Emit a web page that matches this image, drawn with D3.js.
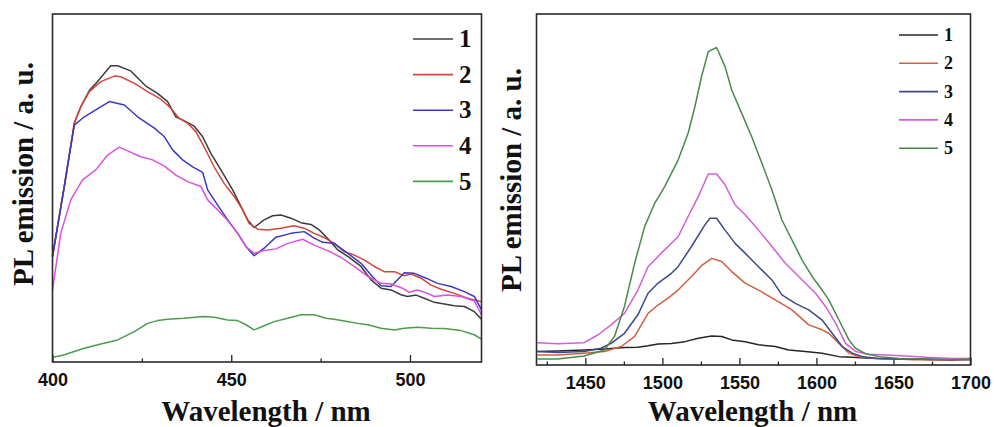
<!DOCTYPE html>
<html>
<head>
<meta charset="utf-8">
<script src="https://cdn.jsdelivr.net/npm/d3@7"></script>
<style>
  body { margin: 0; background: #fff; }
  svg { display: block; }
  .tick text { font-family: "Liberation Sans", Arial, sans-serif; font-weight: bold; font-size: 18px; fill: #111; }
  .title { font-family: "Liberation Serif", "Times New Roman", serif; font-weight: bold; font-size: 29px; fill: #111; }
  .leg { font-family: "Liberation Serif", "Times New Roman", serif; font-weight: bold; fill: #111; }
</style>
</head>
<body>
<svg id="chart" width="994" height="427"></svg>
<script>
// left panel: visible-range PL (wavelength nm, intensity a.u.)
var vis1 = [[400,29.7],[403.3,50.0],[406.1,68.3],[407.9,73.1],[410.3,77.8],[412.6,80.4],[416.3,85.0],[418.2,85.0],[421.9,83.5],[426.1,79.1],[429.4,77.0],[432.2,74.6],[434.5,70.2],[437.3,68.8],[439.6,67.5],[442.0,64.4],[444.3,59.6],[447.1,54.8],[450.4,49.0],[452.7,44.2],[454.6,40.3],[456.4,38.1],[459.2,40.3],[461.6,41.5],[463.9,41.7],[466.7,40.8],[469.5,39.5],[472.3,39.0],[474.6,37.4],[477.4,34.5],[479.8,31.6],[482.6,29.7],[486.3,26.8],[489.1,22.9],[491.9,20.5],[494.7,20.0],[497.5,18.6],[499.3,18.1],[501.7,18.5],[504.0,17.6],[506.8,16.4],[509.6,15.9],[512.4,15.4],[515.2,15.2],[518.0,13.7],[520,11.5]];
var vis2 = [[400,29.7],[403.3,50.0],[406.1,68.3],[407.9,73.1],[410.3,77.5],[413.5,80.4],[417.3,82.0],[419.1,81.8],[422.9,79.9],[426.6,77.5],[430.3,75.3],[433.1,72.7],[435.4,69.8],[437.8,68.3],[440.1,65.9],[442.4,61.5],[445.2,55.7],[448.0,50.9],[450.8,47.1],[453.2,43.2],[455.0,39.3],[457.4,37.6],[460.2,37.4],[463.9,37.9],[467.6,38.6],[470.4,37.9],[473.2,36.4],[476.0,35.2],[478.8,33.5],[481.6,31.1],[484.4,30.1],[487.2,28.7],[490.0,26.8],[492.8,25.3],[495.6,25.3],[498.4,24.1],[500.3,24.6],[503.1,23.4],[505.9,21.4],[508.7,20.2],[512.4,19.0],[516.1,17.6],[520,16.6]];
var vis3 = [[400,29.7],[403.3,50.0],[406.1,67.8],[408.9,70.2],[412.1,72.2],[415.9,74.6],[420.1,73.6],[423.8,70.2],[428.5,66.9],[431.3,64.4],[433.6,60.6],[436.4,57.7],[439.2,55.7],[442.0,54.1],[443.4,49.0],[446.2,44.6],[449.0,40.3],[451.8,36.4],[454.1,32.6],[456.4,29.9],[459.2,32.1],[462.5,35.3],[466.7,36.4],[470.4,36.9],[473.2,35.0],[475.6,33.8],[478.8,33.5],[482.6,30.6],[486.3,27.7],[489.1,24.3],[491.9,21.2],[494.7,21.0],[498.4,25.0],[501.2,24.8],[504.5,23.4],[507.7,21.9],[511.5,21.0],[515.2,19.5],[518.0,18.1],[520,14.2]];
var vis4 = [[400,20.0],[402.3,36.4],[405.1,46.1],[408.4,51.9],[412.1,54.8],[415.4,59.1],[418.7,61.4],[421.5,60.1],[424.7,58.6],[428.0,57.7],[431.3,55.9],[434.5,53.3],[437.8,51.4],[441.5,50.0],[443.4,46.1],[446.2,43.2],[449.0,40.1],[451.8,36.4],[454.1,32.6],[456.4,30.6],[459.2,31.4],[462.5,31.9],[465.8,33.5],[470.0,34.7],[473.2,33.0],[477.0,31.4],[480.7,29.4],[484.4,26.8],[488.2,23.9],[491.9,21.9],[494.7,21.7],[497.9,20.5],[499.8,19.3],[502.1,20.0],[504.9,19.0],[506.8,18.1],[510.5,18.5],[514.3,18.1],[518.0,16.8],[520,12.8]];
var vis5 = [[400,0.4],[403.3,1.2],[408.9,3.1],[413.5,4.3],[418.2,5.5],[422.9,7.9],[426.6,10.3],[429.4,11.1],[432.2,11.5],[436.8,11.8],[442.4,12.3],[445.2,12.1],[449.0,11.3],[451.8,11.1],[454.1,9.9],[456.4,8.4],[459.2,9.6],[462.0,10.8],[465.8,11.8],[469.5,12.8],[473.2,12.8],[476.5,11.8],[478.8,11.5],[481.6,11.0],[485.4,10.3],[488.2,9.9],[491.9,8.9],[495.6,8.4],[498.4,8.9],[502.1,9.2],[505.9,8.9],[509.6,8.8],[514.3,8.2],[518.0,7.0],[520,5.7]];

// right panel: NIR PL
var nir1 = [[1418.9,3.2],[1432.0,3.3],[1449.3,3.6],[1462.4,3.9],[1475.4,4.3],[1484.1,4.4],[1490.7,4.8],[1497.2,5.3],[1505.9,5.5],[1514.6,6.0],[1523.3,7.0],[1532.0,7.6],[1538.5,7.5],[1545.0,6.5],[1553.7,6.0],[1562.4,5.1],[1573.3,4.6],[1582.0,3.6],[1592.8,3.2],[1603.7,2.7],[1614.6,1.7],[1623.3,1.5],[1638.5,1.2],[1649.4,1.1],[1662.4,1.0],[1675.4,0.8],[1688.5,0.8],[1700,0.8]];
var nir2 = [[1418.9,2.2],[1432.0,2.2],[1449.3,2.7],[1462.4,3.2],[1473.3,4.6],[1482.0,7.5],[1490.7,14.1],[1497.2,16.5],[1503.7,18.5],[1510.2,20.8],[1518.9,24.7],[1525.4,27.8],[1532.0,29.9],[1538.5,29.0],[1545.0,26.1],[1553.7,22.8],[1562.4,20.8],[1573.3,18.0],[1584.1,15.1],[1595.0,10.8],[1603.7,9.4],[1608.0,8.4],[1614.6,5.5],[1621.1,2.7],[1627.6,1.7],[1638.5,1.2],[1649.4,1.1],[1662.4,0.8],[1675.4,0.8],[1688.5,0.6],[1700,1.0]];
var nir3 = [[1418.9,3.2],[1432.0,2.9],[1449.3,3.2],[1460.2,4.1],[1466.7,5.5],[1475.4,8.4],[1484.1,13.7],[1490.7,19.9],[1497.2,22.8],[1505.9,25.6],[1510.2,27.5],[1518.9,33.3],[1527.6,39.5],[1530.9,41.4],[1535.2,41.4],[1540.7,38.0],[1547.2,34.2],[1553.7,31.4],[1562.4,27.5],[1571.1,23.7],[1577.6,19.4],[1586.3,17.0],[1595.0,15.1],[1603.7,12.2],[1610.2,8.4],[1616.7,4.6],[1623.3,2.7],[1629.8,1.7],[1640.7,1.2],[1653.7,1.0],[1671.1,1.0],[1688.5,0.8],[1700,1.2]];
var nir4 = [[1418.9,5.7],[1432.0,5.4],[1449.3,5.7],[1458.0,7.9],[1466.7,10.8],[1475.4,14.1],[1484.1,20.8],[1490.7,27.5],[1499.3,31.4],[1510.2,36.1],[1516.7,41.9],[1523.3,47.6],[1529.8,54.1],[1535.2,54.1],[1540.7,51.0],[1547.2,45.2],[1553.7,42.4],[1562.4,38.0],[1571.1,33.3],[1579.8,28.5],[1590.7,23.7],[1599.4,19.9],[1605.9,16.1],[1612.4,11.3],[1618.9,5.5],[1625.4,3.2],[1634.1,2.4],[1645.0,2.2],[1658.1,1.9],[1671.1,1.5],[1688.5,1.2],[1700,1.2]];
var nir5 = [[1418.9,1.0],[1432.0,1.0],[1449.3,1.9],[1462.4,3.6],[1468.9,7.5],[1475.4,16.1],[1482.0,28.5],[1488.5,39.0],[1495.0,45.7],[1501.5,50.5],[1510.2,58.1],[1516.7,65.8],[1521.1,73.4],[1525.4,82.0],[1529.8,89.2],[1535.2,90.4],[1540.7,84.9],[1545.0,78.2],[1551.5,71.5],[1558.0,64.8],[1564.6,57.2],[1571.1,49.5],[1577.6,40.9],[1584.1,35.2],[1590.7,29.4],[1597.2,24.7],[1603.7,20.8],[1608.0,18.0],[1614.6,12.2],[1621.1,6.5],[1625.4,4.1],[1632.0,2.5],[1640.7,1.7],[1653.7,1.2],[1671.1,1.0],[1688.5,0.8],[1700,1.0]];

var labels = ["1", "2", "3", "4", "5"];
var visColors = ["#3c3c3c", "#d4463c", "#3a3ac4", "#de50e0", "#4c9c4c"];
var nirColors = ["#262626", "#d0603e", "#3c4a8a", "#d45ed8", "#4a8a48"];

var visTicks = [400, 450, 500], visMinor = [425, 475];
var nirTicks = [1450, 1500, 1550, 1600, 1650, 1700];
var nirMinor = [1425, 1475, 1525, 1575, 1625, 1675];

var svg = d3.select("#chart");

function drawPanel(p) {
    var x = d3.scaleLinear().domain(p.xdom).range([p.left, p.right]);
    var y = d3.scaleLinear().domain(p.ydom).range([p.bottom, p.top]);
    var g = svg.append("g");

    // minor ticks
    g.append("g")
        .attr("transform", "translate(0," + p.bottom + ")")
        .call(d3.axisBottom(x).tickValues(p.minor).tickSize(-3.5).tickFormat(""))
        .call(function(a) { a.select(".domain").remove(); a.selectAll("line").attr("stroke", "#222").attr("stroke-width", 1.3); });

    g.append("g")
        .attr("transform", "translate(0," + p.bottom + ")")
        .call(d3.axisBottom(x).tickValues(p.ticks).tickSize(-7).tickPadding(11).tickFormat(d3.format("d")))
        .call(function(a) { a.select(".domain").remove(); a.selectAll("line").attr("stroke", "#222").attr("stroke-width", 1.3); });

    var line = d3.line()
        .x(function(d) { return x(d[0]); })
        .y(function(d) { return y(d[1]); });

    p.series.forEach(function(s, i) {
        g.append("path")
            .datum(s)
            .attr("fill", "none")
            .attr("stroke", p.colors[i])
            .attr("stroke-width", 1.5)
            .attr("stroke-linejoin", "round")
            .attr("d", line);
    });

    g.append("rect")
        .attr("x", p.left).attr("y", p.top)
        .attr("width", p.right - p.left).attr("height", p.bottom - p.top)
        .attr("fill", "none").attr("stroke", "#2a2a2a").attr("stroke-width", 1.6);

    // legend
    labels.forEach(function(lab, i) {
        var ly = p.legY + i * p.legStep;
        g.append("line")
            .attr("x1", p.legX).attr("x2", p.legX + p.legLen)
            .attr("y1", ly).attr("y2", ly)
            .attr("stroke", p.colors[i]).attr("stroke-width", 1.6);
        g.append("text").attr("class", "leg")
            .attr("x", p.legX + p.legLen + 6).attr("y", ly + p.legFont * 0.33)
            .style("font-size", p.legFont + "px")
            .text(lab);
    });

    g.append("text").attr("class", "title")
        .attr("text-anchor", "middle")
        .attr("x", (p.left + p.right) / 2 - 1).attr("y", 421)
        .text("Wavelength / nm");

    g.append("text").attr("class", "title")
        .attr("text-anchor", "middle")
        .attr("transform", "translate(" + p.ytX + "," + p.ytY + ") rotate(-90)")
        .text("PL emission / a. u.");
}

drawPanel({
    left: 52.5, right: 481.5, top: 14, bottom: 362,
    xdom: [400, 520], ydom: [-0.9, 100],
    ticks: visTicks, minor: visMinor,
    series: [vis1, vis2, vis3, vis4, vis5], colors: visColors,
    legX: 413, legLen: 40, legY: 39, legStep: 35.6, legFont: 25,
    ytX: 33, ytY: 174
});

drawPanel({
    left: 536.5, right: 970.5, top: 14, bottom: 365,
    xdom: [1418.3, 1700], ydom: [-0.7, 100],
    ticks: nirTicks, minor: nirMinor,
    series: [nir1, nir2, nir3, nir4, nir5], colors: nirColors,
    legX: 899, legLen: 39, legY: 35, legStep: 28.3, legFont: 18,
    ytX: 521, ytY: 180
});
</script>
</body>
</html>
